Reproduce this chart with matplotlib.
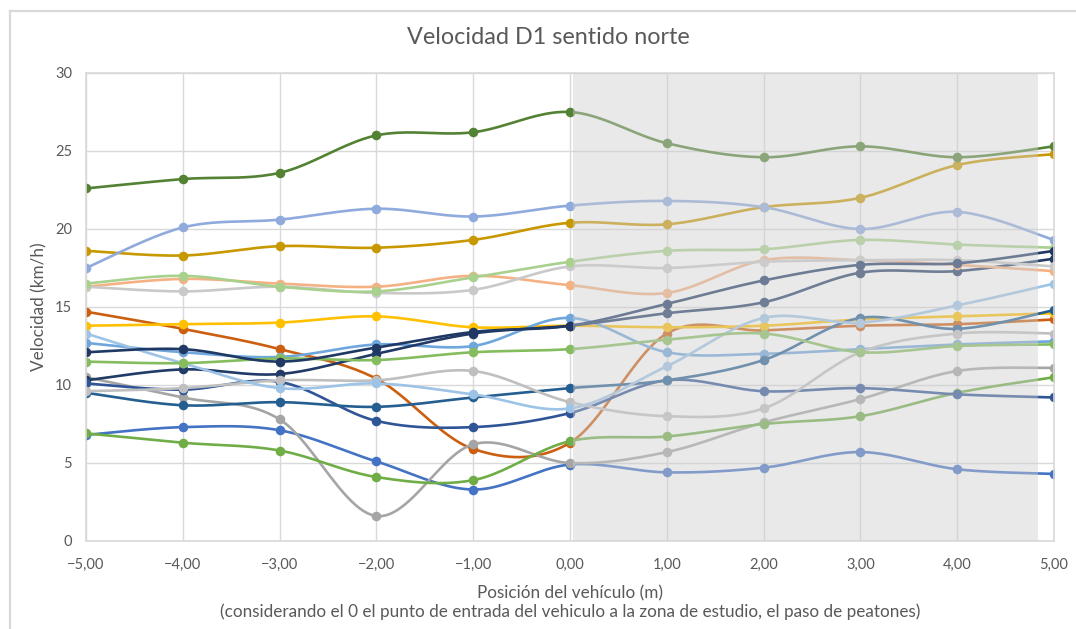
import numpy as np
import matplotlib
matplotlib.use('Agg')
import matplotlib.pyplot as plt
from matplotlib.lines import Line2D

plt.rcParams['font.family'] = ['Lato', 'DejaVu Sans']

# posiciones del vehiculo (m)
x_pos = [-5, -4, -3, -2, -1, 0, 1, 2, 3, 4, 5]
x_ticks = ['\u22125,00', '\u22124,00', '\u22123,00', '\u22122,00', '\u22121,00',
           '0,00', '1,00', '2,00', '3,00', '4,00', '5,00']

# velocidades (km/h), una lista por vehiculo
v_dark_green = [22.6, 23.2, 23.6, 26.0, 26.2, 27.5, 25.5, 24.6, 25.3, 24.6, 25.3]
v_lavender = [17.5, 20.1, 20.6, 21.3, 20.8, 21.5, 21.8, 21.4, 20.0, 21.1, 19.3]
v_dark_gold = [18.6, 18.3, 18.9, 18.8, 19.3, 20.4, 20.3, 21.4, 22.0, 24.1, 24.8]
v_light_green = [16.5, 17.0, 16.3, 16.0, 16.9, 17.9, 18.6, 18.7, 19.3, 19.0, 18.8]
v_light_orange = [16.3, 16.8, 16.5, 16.3, 17.0, 16.4, 15.9, 18.0, 18.0, 17.7, 17.3]
v_light_gray = [16.3, 16.0, 16.3, 15.9, 16.1, 17.6, 17.5, 17.9, 18.0, 18.0, 17.6]
v_navy_a = [12.1, 12.3, 11.5, 12.4, 13.4, 13.8, 15.2, 16.7, 17.7, 17.8, 18.6]
v_navy_b = [10.3, 11.0, 10.7, 12.0, 13.3, 13.8, 14.6, 15.3, 17.2, 17.3, 18.1]
v_gold = [13.8, 13.9, 14.0, 14.4, 13.7, 13.8, 13.7, 13.8, 14.2, 14.4, 14.6]
v_dark_orange = [14.7, 13.6, 12.3, 10.4, 5.9, 6.3, 13.3, 13.5, 13.8, 13.9, 14.2]
v_light_blue = [13.3, 11.4, 9.8, 10.1, 9.4, 8.5, 11.2, 14.3, 14.0, 15.1, 16.5]
v_mid_blue = [12.7, 12.1, 11.8, 12.6, 12.5, 14.3, 12.1, 12.0, 12.3, 12.6, 12.8]
v_green_up = [11.5, 11.4, 11.7, 11.6, 12.1, 12.3, 12.9, 13.3, 12.1, 12.5, 12.6]
v_gray_a = [10.5, 9.2, 7.8, 1.6, 6.2, 5.0, 5.7, 7.6, 9.1, 10.9, 11.1]
v_gray_b = [9.6, 9.8, 10.3, 10.3, 10.9, 8.9, 8.0, 8.5, 12.1, 13.3, 13.3]
v_blue = [6.8, 7.3, 7.1, 5.1, 3.3, 4.9, 4.4, 4.7, 5.7, 4.6, 4.3]
v_green_low = [6.9, 6.3, 5.8, 4.1, 3.9, 6.4, 6.7, 7.5, 8.0, 9.5, 10.5]
v_dark_blue = [10.1, 9.7, 10.2, 7.7, 7.3, 8.2, 10.3, 9.6, 9.8, 9.4, 9.2]
v_teal = [9.5, 8.7, 8.9, 8.6, 9.2, 9.8, 10.3, 11.6, 14.3, 13.6, 14.8]

series = [
    (v_blue, '#4472C4'),
    (v_dark_orange, '#CC5E0F'),
    (v_gray_a, '#A5A5A5'),
    (v_gold, '#FFC000'),
    (v_mid_blue, '#6FA6DC'),
    (v_green_low, '#70AD47'),
    (v_navy_b, '#213A66'),
    (v_dark_blue, '#2F5597'),
    (v_teal, '#255E91'),
    (v_light_orange, '#F4B183'),
    (v_light_gray, '#C9C9C9'),
    (v_dark_gold, '#C89800'),
    (v_lavender, '#8FAADC'),
    (v_dark_green, '#548235'),
    (v_light_green, '#A9D18E'),
    (v_gray_b, '#BFBFBF'),
    (v_light_blue, '#9DC3E6'),
    (v_green_up, '#85BD5E'),
    (v_navy_a, '#1F3864'),
]


def smooth(xs, ys, steps=24):
    # curva tipo Excel (bezier con puntos de control de Catmull-Rom)
    p = np.column_stack([xs, ys]).astype(float)
    p = np.vstack([p[0], p, p[-1]])
    out = []
    t = np.linspace(0, 1, steps)[:, None]
    for i in range(1, len(p) - 2):
        p0, p1, p2, p3 = p[i - 1], p[i], p[i + 1], p[i + 2]
        c1 = p1 + (p2 - p0) / 6
        c2 = p2 - (p3 - p1) / 6
        seg = ((1 - t) ** 3) * p1 + 3 * ((1 - t) ** 2) * t * c1 \
            + 3 * (1 - t) * t ** 2 * c2 + t ** 3 * p2
        out.append(seg if i == 1 else seg[1:])
    out = np.vstack(out)
    return out[:, 0], out[:, 1]


fig = plt.figure(figsize=(10.76, 6.29), dpi=100)
ax = fig.add_axes([86 / 1076, 1 - 541 / 629, (1054 - 86) / 1076, (541 - 73) / 629])

for vals, col in series:
    sx, sy = smooth(x_pos, vals)
    ax.plot(sx, sy, color=col, lw=1.9, zorder=2, solid_capstyle='round')
    ax.plot(x_pos, vals, 'o', color=col, ms=6.9, mew=0, zorder=2)

# zona de estudio sombreada
ax.axvspan(0.03, 4.835, color='#CFCFCF', alpha=0.45, lw=0, zorder=3)

ax.set_xlim(-5, 5)
ax.set_ylim(0, 30)
ax.set_xticks(x_pos)
ax.set_xticklabels(x_ticks)
ax.set_yticks(range(0, 31, 5))
ax.grid(True, color='#D9D9D9', lw=1.0, zorder=0)
ax.set_axisbelow(True)
for s in ax.spines.values():
    s.set_color('#D9D9D9')
    s.set_linewidth(1.2)
ax.tick_params(length=0, colors='#595959', labelsize=10.5, pad=10)
ax.tick_params(axis='x', pad=12)

fig.text(0.51, 0.941, 'Velocidad D1 sentido norte', ha='center', va='center',
         fontsize=16.8, color='#595959')
fig.text(0.037, 0.512, 'Velocidad (km/h)', rotation=90, ha='center', va='center',
         fontsize=12.3, color='#595959')
fig.text(0.53, 0.057, 'Posición del vehículo (m)', ha='center', va='center',
         fontsize=12.3, color='#595959')
fig.text(0.53, 0.027, '(considerando el 0 el punto de entrada del vehiculo a la zona '
         'de estudio, el paso de peatones)', ha='center', va='center',
         fontsize=12.3, color='#595959')

# borde del grafico
fig.add_artist(Line2D([10 / 1076, 10 / 1076], [0, 1 - 11 / 629], transform=fig.transFigure,
                      color='#D9D9D9', lw=1.6))
fig.add_artist(Line2D([10 / 1076, 1], [1 - 11 / 629, 1 - 11 / 629], transform=fig.transFigure,
                      color='#D9D9D9', lw=1.6))

fig.savefig('out.png', dpi=100)
